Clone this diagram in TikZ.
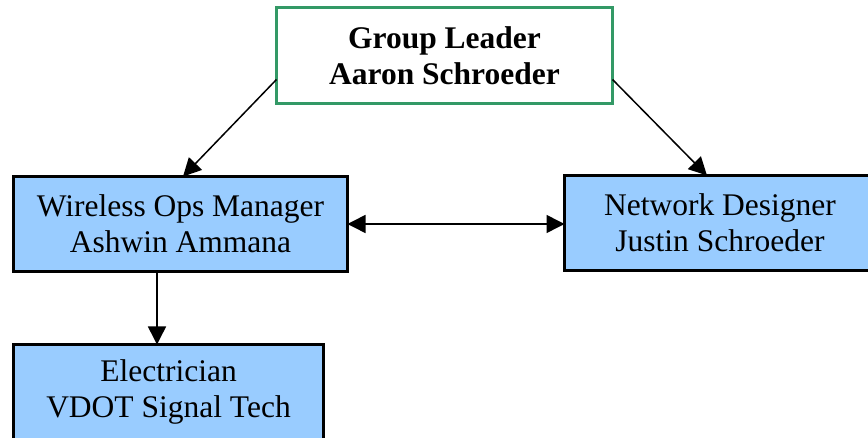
\documentclass[tikz,border=0pt]{standalone}
\usepackage{fontspec}
\setmainfont{Liberation Serif}
\usetikzlibrary{arrows.meta}
\definecolor{leadgreen}{HTML}{339966}
\definecolor{boxblue}{HTML}{99CCFF}
\begin{document}
\begin{tikzpicture}[x=0.5pt,y=-0.5pt,
  every node/.style={font=\fontsize{15.75pt}{18pt}\selectfont, align=center, inner sep=0pt, outer sep=0pt},
  leadbox/.style={draw=leadgreen, line width=1.5pt, fill=white, minimum width=168pt, minimum height=48pt, font=\fontsize{15.75pt}{18pt}\selectfont\bfseries},
  rolebox/.style={draw=black, line width=1.5pt, fill=boxblue, minimum height=47.5pt},
  link/.style={draw=black, line width=0.75pt, -{Triangle[length=9pt,width=9pt]}},
  duallink/.style={draw=black, line width=0.75pt, {Triangle[length=9pt,width=9pt]}-{Triangle[length=9pt,width=9pt]}}
]
\useasboundingbox (0,0) rectangle (868,438);
\clip (0,0) rectangle (868,438);
\node[leadbox] (lead) at (444.5,55.5) {Group Leader\\Aaron Schroeder};
\node[rolebox, minimum width=167pt] (wom) at (180.5,224) {Wireless Ops Manager\\Ashwin Ammana};
\node[rolebox, minimum width=155.5pt] (net) at (720,223) {Network Designer\\Justin Schroeder};
\node[rolebox, minimum width=155pt] (elec) at (168.5,392) {Electrician\\VDOT Signal Tech};
\draw[link] ([yshift=-12pt]lead.west) -- ([xshift=1.25pt]wom.north);
\draw[link] ([yshift=-12pt]lead.east) -- ([xshift=-6.5pt]net.north);
\draw[duallink] (wom.east) -- (wom.east -| net.west);
\draw[link] ([xshift=-11.75pt]wom.south) -- ([xshift=-11.75pt]wom.south |- elec.north);
\end{tikzpicture}
\end{document}
